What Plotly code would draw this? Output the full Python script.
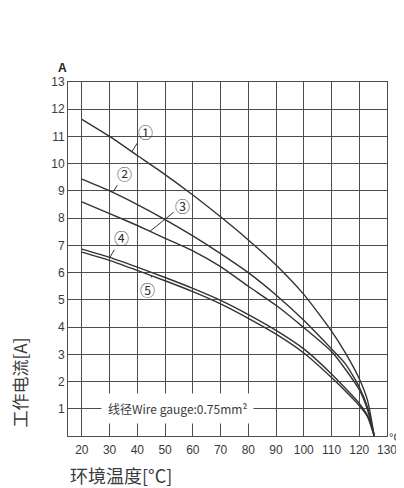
import plotly.graph_objects as go

# ---- data ----
temps = [20, 30, 40, 50, 60, 70, 80, 90, 100, 110, 115, 120, 123, 125.4]
curve1 = [11.63, 11.0, 10.3, 9.6, 8.85, 8.05, 7.2, 6.28, 5.2, 3.85, 3.05, 2.1, 1.3, 0.0]
curve2 = [9.43, 9.0, 8.5, 7.95, 7.35, 6.7, 6.0, 5.18, 4.25, 3.2, 2.65, 1.8, 1.05, 0.0]
curve3 = [8.6, 8.17, 7.73, 7.26, 6.8, 6.22, 5.5, 4.8, 3.98, 3.1, 2.45, 1.7, 0.95, 0.0]
curve4 = [6.86, 6.56, 6.2, 5.82, 5.42, 4.98, 4.46, 3.88, 3.2, 2.28, 1.75, 1.2, 0.75, 0.0]
curve5 = [6.75, 6.45, 6.08, 5.7, 5.3, 4.85, 4.32, 3.74, 3.05, 2.15, 1.65, 1.12, 0.7, 0.0]
series = [curve1, curve2, curve3, curve4, curve5]
labels = ["①", "②", "③", "④", "⑤"]
x_ticks = [20, 30, 40, 50, 60, 70, 80, 90, 100, 110, 120, 130]
y_ticks = list(range(1, 14))
note_text = "线径Wire gauge:0.75mm²"

LINE = "#333333"
GRID = "#4d4d4d"
TXT = "#3a3a3a"
CJK = "Noto Sans CJK SC, sans-serif"
LAT = "Liberation Sans, Arial, sans-serif"

fig = go.Figure()
for ys in series:
    fig.add_trace(go.Scatter(x=temps, y=ys, mode="lines",
                             line=dict(color=LINE, width=1.4, shape="spline", smoothing=0.6),
                             showlegend=False, hoverinfo="skip"))

# curve labels with leader lines: (label pos) -> (point on curve)
label_pos = [(42.8, 11.2, 38.0, 10.44),
             (35.5, 9.65, 31.3, 8.97),
             (56.3, 8.48, 44.6, 7.52),
             (34.3, 7.28, 30.1, 6.56),
             (43.5, 5.38, 45.2, 5.88)]
for lab, (lx, ly, px, py) in zip(labels, label_pos):
    fig.add_annotation(x=px, y=py, ax=lx, ay=ly, axref="x", ayref="y", xref="x", yref="y",
                       text=lab, showarrow=True, arrowhead=0, arrowwidth=1, arrowcolor=LINE,
                       font=dict(size=15, color=LINE, family=CJK), standoff=0, startstandoff=0)

# wire gauge note
fig.add_annotation(x=54.3, y=1, xref="x", yref="y", text=note_text, showarrow=False,
                   bgcolor="white", borderpad=6, font=dict(size=12, color=TXT, family=CJK))

# unit labels and titles
fig.add_annotation(x=-0.016, y=1.04, xref="paper", yref="paper", text="<b>A</b>", showarrow=False,
                   font=dict(size=12, color="#222", family=LAT), xanchor="center", yanchor="middle")
fig.add_annotation(x=1.003, y=-0.003, xref="paper", yref="paper", text="°C", showarrow=False,
                   borderpad=0, font=dict(size=11, color=TXT, family=LAT),
                   xanchor="left", yanchor="middle")
fig.add_annotation(x=-0.152, y=0.15, xref="paper", yref="paper", text="工作电流[A]", showarrow=False,
                   textangle=-90, font=dict(size=17, color=TXT, family=CJK),
                   xanchor="center", yanchor="middle")
fig.add_annotation(x=0.0, y=-0.11, xref="paper", yref="paper", text="环境温度[°C]", showarrow=False,
                   font=dict(size=18, color=TXT, family=CJK), xanchor="left", yanchor="middle")

# the page body adds an 8px margin, so the figure is 8px smaller and margins 8px tighter
fig.update_layout(
    width=396, height=480,
    margin=dict(l=60, r=17, t=74, b=52, autoexpand=False),
    paper_bgcolor="white", plot_bgcolor="white",
    xaxis=dict(range=[15, 130], tickvals=x_ticks, ticktext=[str(v) for v in x_ticks],
               showgrid=True, gridcolor=GRID, gridwidth=1, zeroline=False,
               showline=True, linecolor=GRID, linewidth=1, mirror=True, automargin=False,
               ticks="", ticklabelstandoff=3, tickfont=dict(size=12, color=TXT, family=LAT)),
    yaxis=dict(range=[0, 13], tickvals=y_ticks, ticktext=[str(v) for v in y_ticks],
               showgrid=True, gridcolor=GRID, gridwidth=1, zeroline=False,
               showline=True, linecolor=GRID, linewidth=1, mirror=True, automargin=False,
               ticks="", tickfont=dict(size=12, color=TXT, family=LAT)),
)

fig.write_html("out.html")
